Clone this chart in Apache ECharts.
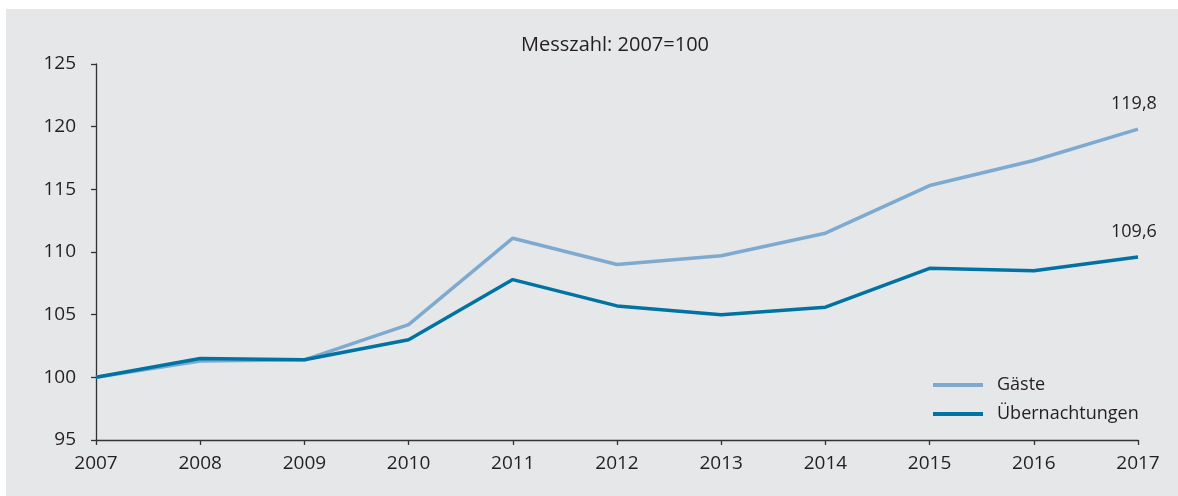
<!DOCTYPE html>
<html>
<head>
<meta charset="utf-8">
<script src="https://cdn.jsdelivr.net/npm/echarts@6/dist/echarts.min.js"></script>
<style>
  html, body { margin: 0; padding: 0; background: #ffffff; }
  #wrap { position: absolute; left: 6px; top: 9px; width: 1172px; height: 487px; background: #e6e7e9; }
  #chart { width: 100%; height: 100%; }
</style>
</head>
<body>
<div id="wrap"><div id="chart"></div></div>
<script>
  // Jahre und Messzahlen (2007 = 100)
  var years = ['2007', '2008', '2009', '2010', '2011', '2012', '2013', '2014', '2015', '2016', '2017'];
  var gaeste = [100, 101.3, 101.4, 104.2, 111.1, 109.0, 109.7, 111.5, 115.3, 117.3, 119.8];
  var uebernachtungen = [100, 101.5, 101.4, 103.0, 107.8, 105.7, 105.0, 105.6, 108.7, 108.5, 109.6];
  var yTicks = [95, 100, 105, 110, 115, 120, 125];

  var fontFamily = '"Open Sans", "Noto Sans", sans-serif';
  var textColor = '#231f20';

  var dom = document.getElementById('chart');
  var myChart = echarts.init(dom);

  // Wert am Linienende, deutsches Dezimalkomma
  var endText = function (p) {
    return String(p.value).replace('.', ',');
  };

  var option = {
    animation: false,
    title: {
      text: 'Messzahl: 2007=100',
      left: 510,
      top: 21,
      textStyle: { fontFamily: fontFamily, fontSize: 20, fontWeight: 'normal', color: textColor }
    },
    legend: {
      orient: 'vertical',
      left: 922,
      top: 362,
      itemWidth: 50,
      itemHeight: 4,
      itemGap: 11,
      icon: 'rect',
      textStyle: { fontFamily: fontFamily, fontSize: 18, color: textColor, padding: [0, 0, 0, 9] },
      data: ['Gäste', 'Übernachtungen']
    },
    grid: { left: 90, right: 40, top: 55, bottom: 56, containLabel: false },
    xAxis: {
      type: 'category',
      data: years,
      boundaryGap: false,
      axisLine: { lineStyle: { color: '#333333', width: 1.3 } },
      axisTick: { show: true, length: 5, alignWithLabel: true, lineStyle: { color: '#333333', width: 1.3 } },
      axisLabel: { fontFamily: fontFamily, fontSize: 19, color: textColor, margin: 14 },
      splitLine: { show: false }
    },
    yAxis: {
      type: 'value',
      min: yTicks[0],
      max: yTicks[yTicks.length - 1],
      interval: 5,
      axisLine: { show: true, lineStyle: { color: '#333333', width: 1.3 } },
      axisTick: { show: true, length: 5, lineStyle: { color: '#333333', width: 1.3 } },
      axisLabel: { fontFamily: fontFamily, fontSize: 19, color: textColor, margin: 20 },
      splitLine: { show: false }
    },
    series: [
      {
        name: 'Gäste',
        type: 'line',
        data: gaeste,
        symbol: 'none',
        color: '#7eaad0',
        lineStyle: { width: 3.5, color: '#7eaad0' },
        endLabel: {
          show: true, formatter: endText, offset: [-35, -25],
          fontFamily: fontFamily, fontSize: 18, color: textColor
        },
        z: 2
      },
      {
        name: 'Übernachtungen',
        type: 'line',
        data: uebernachtungen,
        symbol: 'none',
        color: '#0073a3',
        lineStyle: { width: 3.5, color: '#0073a3' },
        endLabel: {
          show: true, formatter: endText, offset: [-35, -25],
          fontFamily: fontFamily, fontSize: 18, color: textColor
        },
        z: 3
      }
    ]
  };

  myChart.setOption(option);
  window.addEventListener('resize', function () { myChart.resize(); });
</script>
</body>
</html>
